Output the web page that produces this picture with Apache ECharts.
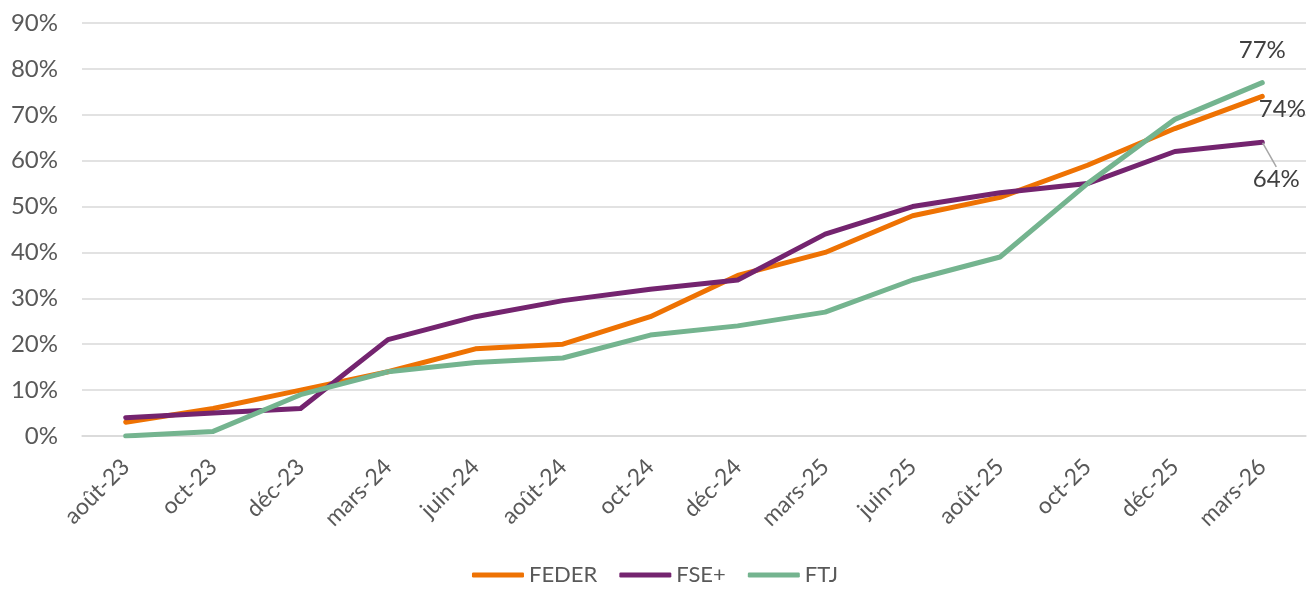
<!DOCTYPE html>
<html>
<head>
<meta charset="utf-8">
<script src="https://cdn.jsdelivr.net/npm/echarts@6/dist/echarts.min.js"></script>
<style>
  html, body { margin: 0; padding: 0; background: #fff; }
  #chart { width: 1310px; height: 593px; }
</style>
</head>
<body>
<div id="chart"></div>
<script>
const categories = ["août-23", "oct-23", "déc-23", "mars-24", "juin-24", "août-24", "oct-24",
  "déc-24", "mars-25", "juin-25", "août-25", "oct-25", "déc-25", "mars-26"];
const feder = [3, 6, 10, 14, 19, 20, 26, 35, 40, 48, 52, 59, 67, 74];
const fsePlus = [4, 5, 6, 21, 26, 29.5, 32, 34, 44, 50, 53, 55, 62, 64];
const ftj = [0, 1, 9, 14, 16, 17, 22, 24, 27, 34, 39, 55, 69, 77];
const yTicks = [0, 10, 20, 30, 40, 50, 60, 70, 80, 90];

const textColor = "#595959";
const font = "Lato, 'Noto Sans', sans-serif";

// only the last point carries a value label
const withEndLabel = (values, label, extra) =>
  values.map((v, i) =>
    i === values.length - 1
      ? Object.assign({ value: v, label: Object.assign({ show: true }, label) }, extra || {})
      : v
  );

const chart = echarts.init(document.getElementById("chart"));

const lineSeries = (name, color, data) => ({
  name,
  type: "line",
  data,
  symbol: "circle",
  symbolSize: 1,
  showSymbol: true,
  lineStyle: { width: 5, color, cap: "round", join: "round" },
  itemStyle: { color },
  label: {
    show: false,
    formatter: (p) => p.value + "%",
    fontSize: 24,
    color: "#404040",
    fontFamily: font,
  },
  emphasis: { disabled: true },
  z: 3,
});

const option = {
  animation: false,
  grid: { left: 82, right: 4, top: 23, bottom: 157, containLabel: false },
  legend: {
    bottom: 2,
    left: "center",
    itemWidth: 52,
    itemHeight: 5,
    itemGap: 22,
    icon: "roundRect",
    textStyle: { color: textColor, fontSize: 22, fontFamily: font },
    data: ["FEDER", "FSE+", "FTJ"],
  },
  xAxis: {
    type: "category",
    data: categories,
    boundaryGap: true,
    axisLine: { show: true, lineStyle: { color: "#d9d9d9", width: 1.5 } },
    axisTick: { show: false },
    axisLabel: {
      rotate: 45,
      margin: 27,
      interval: 0,
      color: textColor,
      fontSize: 23,
      fontFamily: font,
    },
  },
  yAxis: {
    type: "value",
    min: yTicks[0],
    max: yTicks[yTicks.length - 1],
    interval: yTicks[1] - yTicks[0],
    axisLine: { show: false },
    axisTick: { show: false },
    axisLabel: {
      margin: 24,
      color: textColor,
      fontSize: 24,
      fontFamily: font,
      formatter: (v) => v + "%",
    },
    splitLine: { lineStyle: { color: "#d9d9d9", width: 1.5 } },
  },
  series: [
    lineSeries("FEDER", "#EE7203",
      withEndLabel(feder, { position: "right", distance: 0, offset: [-4, 13] })),
    lineSeries("FSE+", "#74246F",
      withEndLabel(fsePlus, { position: "bottom", distance: 6 },
        { labelLine: { show: true, lineStyle: { color: "#a6a6a6", width: 1.5 } } })),
    lineSeries("FTJ", "#74B48F",
      withEndLabel(ftj, { position: "top", distance: 20 })),
  ],
};

// move the FSE+ end label down-right so its guide line shows
option.series[1].labelLayout = (params) =>
  params.dataIndex === fsePlus.length - 1 ? { dx: 14, dy: 18 } : {};
option.series[1].labelLine = { show: true, lineStyle: { color: "#a6a6a6", width: 1.5 } };

chart.setOption(option);
window.addEventListener("resize", () => chart.resize());
</script>
</body>
</html>
